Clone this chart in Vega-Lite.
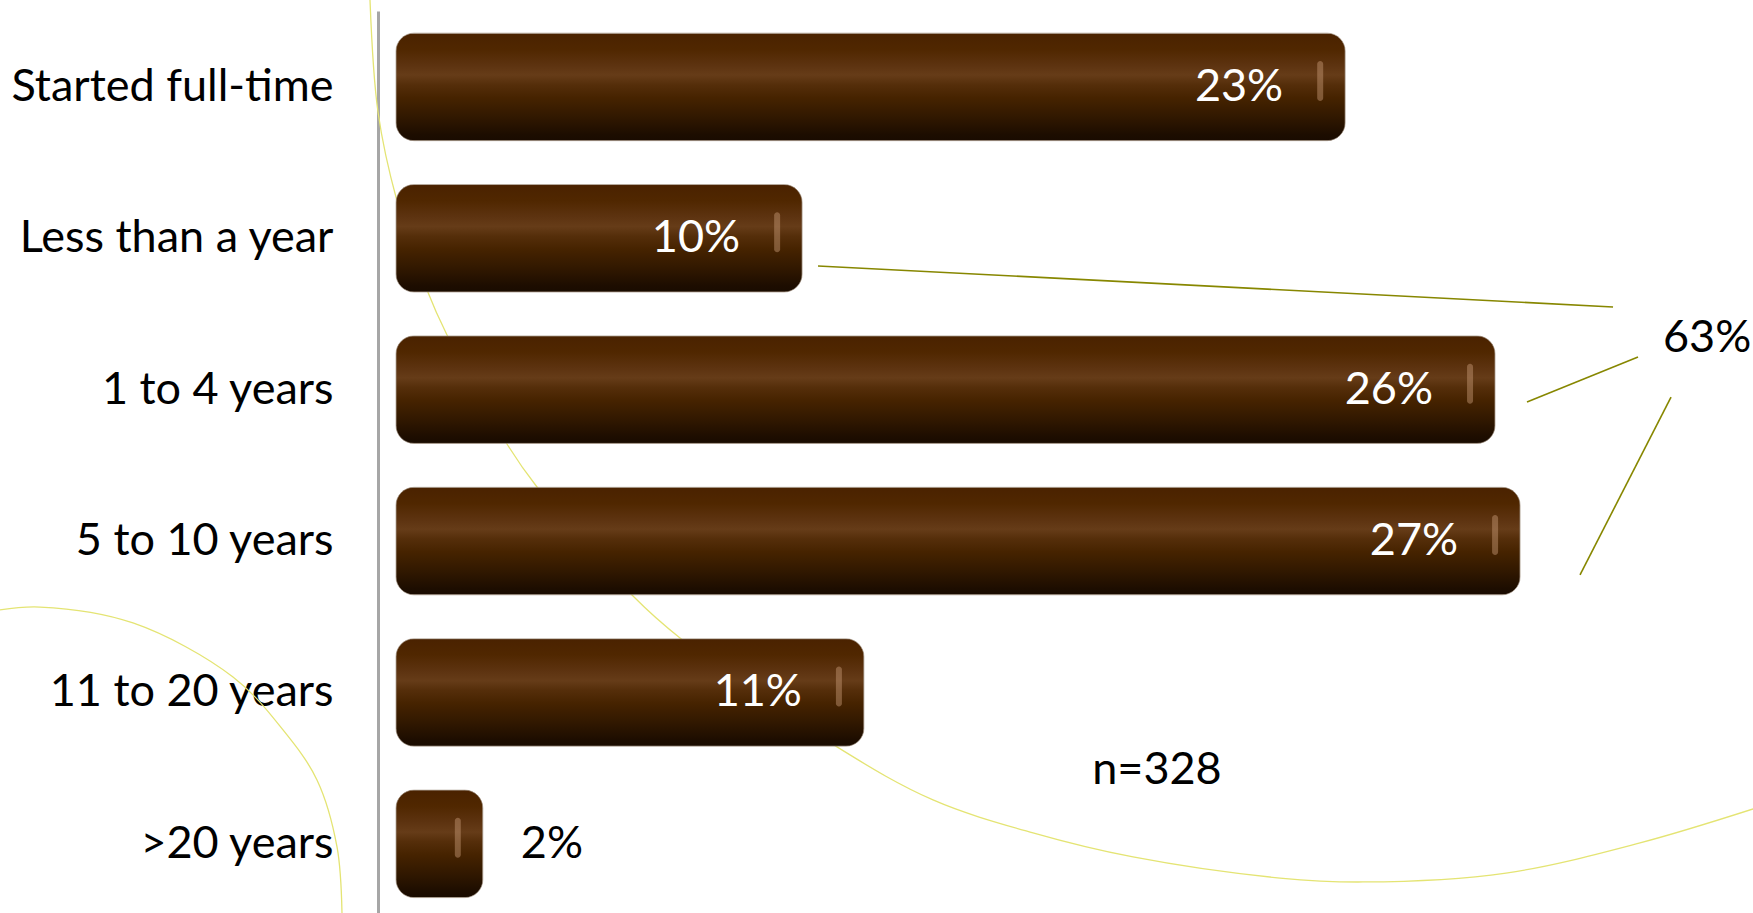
{
  "$schema": "https://vega.github.io/schema/vega-lite/v6.json",
  "width": 1357,
  "height": 902,
  "autosize": "none",
  "padding": {"left": 396, "top": 11, "right": 0, "bottom": 0},
  "background": "white",
  "config": {"view": {"stroke": null}, "font": "Lato"},
  "datasets": {
    "bars": [
      {"category": "Started full-time", "pct": 22.74, "label": "23%"},
      {"category": "Less than a year", "pct": 9.73, "label": "10%"},
      {"category": "1 to 4 years", "pct": 26.33, "label": "26%"},
      {"category": "5 to 10 years", "pct": 26.93, "label": "27%"},
      {"category": "11 to 20 years", "pct": 11.21, "label": "11%"},
      {"category": ">20 years", "pct": 2.08, "label": "2%"}
    ],
    "arcs": [
      {"arc": "big", "x": -0.623, "y": -0.073},
      {"arc": "big", "x": -0.431, "y": 0.667},
      {"arc": "big", "x": 0.024, "y": 1.255},
      {"arc": "big", "x": 0.743, "y": 1.843},
      {"arc": "big", "x": 1.222, "y": 2.14},
      {"arc": "big", "x": 2.659, "y": 2.86},
      {"arc": "big", "x": 3.378, "y": 3.144},
      {"arc": "big", "x": 5.678, "y": 3.864},
      {"arc": "big", "x": 6.804, "y": 4.141},
      {"arc": "big", "x": 10.565, "y": 4.861},
      {"arc": "big", "x": 12.865, "y": 5.211},
      {"arc": "big", "x": 15.261, "y": 5.429},
      {"arc": "big", "x": 17.657, "y": 5.588},
      {"arc": "big", "x": 21.179, "y": 5.727},
      {"arc": "big", "x": 23.167, "y": 5.753},
      {"arc": "big", "x": 26.593, "y": 5.694},
      {"arc": "big", "x": 29.803, "y": 5.495},
      {"arc": "big", "x": 32.511, "y": 5.271},
      {"arc": "left", "x": -9.487, "y": 3.956},
      {"arc": "left", "x": -8.529, "y": 3.937},
      {"arc": "left", "x": -6.301, "y": 4.042},
      {"arc": "left", "x": -3.905, "y": 4.399},
      {"arc": "left", "x": -2.707, "y": 4.749},
      {"arc": "left", "x": -1.893, "y": 5.079},
      {"arc": "left", "x": -1.413, "y": 5.522},
      {"arc": "left", "x": -1.294, "y": 5.958}
    ],
    "brackets": [
      {"x": 10.11, "y": 1.684, "x2": 29.157, "y2": 1.955},
      {"x": 27.096, "y": 2.583, "x2": 29.755, "y2": 2.285},
      {"x": 28.366, "y": 3.725, "x2": 30.546, "y2": 2.55}
    ],
    "notes": [
      {"text": "63%", "x": 31.41, "y": 2.16},
      {"text": "n=328", "x": 18.23, "y": 5.013}
    ]
  },
  "layer": [
    {
      "data": {"name": "arcs"},
      "mark": {"type": "line", "interpolate": "catmull-rom", "stroke": "#e4e473", "strokeWidth": 1.3, "clip": false},
      "encoding": {
        "x": {"field": "x", "type": "quantitative", "scale": {"domain": [0, 32.51], "nice": false, "zero": false}, "axis": null},
        "y": {"field": "y", "type": "quantitative", "scale": {"domain": [0, 5.958], "reverse": true, "nice": false, "zero": false}, "axis": null},
        "detail": {"field": "arc", "type": "nominal"}
      }
    },
    {
      "data": {"name": "bars"},
      "mark": {
        "type": "bar",
        "cornerRadius": 18,
        "stroke": "#9a8878",
        "strokeWidth": 1,
        "strokeOpacity": 0.6,
        "color": {
          "gradient": "linear",
          "x1": 0, "y1": 0, "x2": 0, "y2": 1,
          "stops": [
            {"offset": 0, "color": "#4a2200"},
            {"offset": 0.15, "color": "#502700"},
            {"offset": 0.3, "color": "#5d3310"},
            {"offset": 0.39, "color": "#663c18"},
            {"offset": 0.48, "color": "#552e0a"},
            {"offset": 0.6, "color": "#462300"},
            {"offset": 0.78, "color": "#311800"},
            {"offset": 0.94, "color": "#1d0d00"},
            {"offset": 1, "color": "#190b00"}
          ]
        }
      },
      "encoding": {
        "y": {
          "field": "category", "type": "nominal", "sort": null,
          "scale": {"type": "band", "domain": ["Started full-time", "Less than a year", "1 to 4 years", "5 to 10 years", "11 to 20 years", ">20 years"], "paddingInner": 0.29, "paddingOuter": 0.124, "align": 0.59},
          "axis": {"title": null, "ticks": false, "grid": false, "domainColor": "#a6a6a6", "domainWidth": 3, "labelFontSize": 45, "labelColor": "#000000", "labelFont": "Lato", "labelPadding": 45, "offset": 18, "labelLimit": 0}
        },
        "x": {"field": "pct", "type": "quantitative", "scale": {"domain": [0, 32.51], "nice": false, "zero": false}, "axis": null}
      }
    },
    {
      "data": {"name": "bars"},
      "mark": {"type": "tick", "orient": "vertical", "thickness": 6, "size": 40, "xOffset": -25, "yOffset": -6, "cornerRadius": 3, "color": "#c89c78", "opacity": 0.45},
      "encoding": {
        "y": {"field": "category", "type": "nominal", "sort": null, "scale": {"type": "band", "domain": ["Started full-time", "Less than a year", "1 to 4 years", "5 to 10 years", "11 to 20 years", ">20 years"], "paddingInner": 0.29, "paddingOuter": 0.124, "align": 0.59}, "axis": null},
        "x": {"field": "pct", "type": "quantitative", "scale": {"domain": [0, 32.51], "nice": false, "zero": false}, "axis": null}
      }
    },
    {
      "data": {"name": "bars"},
      "transform": [{"filter": "datum.pct >= 5"}],
      "mark": {"type": "text", "align": "right", "baseline": "middle", "dx": -62, "fontSize": 45, "font": "Lato", "color": "#ffffff"},
      "encoding": {
        "y": {"field": "category", "type": "nominal", "sort": null, "scale": {"type": "band", "domain": ["Started full-time", "Less than a year", "1 to 4 years", "5 to 10 years", "11 to 20 years", ">20 years"], "paddingInner": 0.29, "paddingOuter": 0.124, "align": 0.59}, "axis": null},
        "x": {"field": "pct", "type": "quantitative", "scale": {"domain": [0, 32.51], "nice": false, "zero": false}, "axis": null},
        "text": {"field": "label", "type": "nominal"}
      }
    },
    {
      "data": {"name": "bars"},
      "transform": [{"filter": "datum.pct < 5"}],
      "mark": {"type": "text", "align": "left", "baseline": "middle", "dx": 38, "fontSize": 45, "font": "Lato", "color": "#000000"},
      "encoding": {
        "y": {"field": "category", "type": "nominal", "sort": null, "scale": {"type": "band", "domain": ["Started full-time", "Less than a year", "1 to 4 years", "5 to 10 years", "11 to 20 years", ">20 years"], "paddingInner": 0.29, "paddingOuter": 0.124, "align": 0.59}, "axis": null},
        "x": {"field": "pct", "type": "quantitative", "scale": {"domain": [0, 32.51], "nice": false, "zero": false}, "axis": null},
        "text": {"field": "label", "type": "nominal"}
      }
    },
    {
      "data": {"name": "brackets"},
      "mark": {"type": "rule", "color": "#878700", "strokeWidth": 1.6, "clip": false},
      "encoding": {
        "x": {"field": "x", "type": "quantitative", "scale": {"domain": [0, 32.51], "nice": false, "zero": false}, "axis": null},
        "x2": {"field": "x2"},
        "y": {"field": "y", "type": "quantitative", "scale": {"domain": [0, 5.958], "reverse": true, "nice": false, "zero": false}, "axis": null},
        "y2": {"field": "y2"}
      }
    },
    {
      "data": {"name": "notes"},
      "mark": {"type": "text", "align": "center", "baseline": "middle", "fontSize": 45, "font": "Lato", "color": "#000000"},
      "encoding": {
        "x": {"field": "x", "type": "quantitative", "scale": {"domain": [0, 32.51], "nice": false, "zero": false}, "axis": null},
        "y": {"field": "y", "type": "quantitative", "scale": {"domain": [0, 5.958], "reverse": true, "nice": false, "zero": false}, "axis": null},
        "text": {"field": "text", "type": "nominal"}
      }
    }
  ],
  "resolve": {"scale": {"y": "independent"}}
}
